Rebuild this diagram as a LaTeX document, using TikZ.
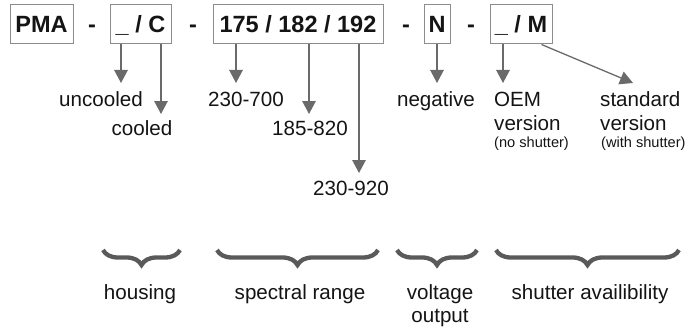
\documentclass[tikz,border=0pt]{standalone}
\usepackage{fontspec}
\setmainfont{Liberation Sans}
\usetikzlibrary{arrows.meta,decorations.pathreplacing}
\definecolor{boxgray}{HTML}{8C8C8C}
\definecolor{arrowgray}{HTML}{6A6A6A}
\definecolor{bracegray}{HTML}{5A5A5A}
\definecolor{ink}{HTML}{141414}
\tikzset{
  codebox/.style={draw=boxgray,line width=1pt,inner sep=0pt,minimum height=39pt,
    text height=16pt,text depth=0pt,text=ink,font=\fontsize{23.5}{27}\selectfont\bfseries},
  dashsep/.style={anchor=base,inner sep=0pt,text=ink,font=\fontsize{23.5}{27}\selectfont\bfseries},
  pick/.style={draw=arrowgray,line width=1.3pt,-{Triangle[width=13.5pt,length=13pt]}},
  lab/.style={anchor=base,inner sep=0pt,text=ink,font=\fontsize{20.6}{23}\selectfont},
  note/.style={anchor=base west,inner sep=0pt,text=ink,font=\fontsize{14.6}{16}\selectfont},
  curly/.style={decorate,decoration={brace,mirror,amplitude=15pt},draw=bracegray,line width=4.3pt}
}
\begin{document}
\begin{tikzpicture}[x=1pt,y=-1pt]
  \useasboundingbox (0,0) rectangle (693,329);
  % code fields
  \node[codebox,minimum width=63pt] (pma) at (41.5,24.5) {PMA};
  \node[dashsep] (d1) at (92,33) {-};
  \node[codebox,minimum width=61pt] (cool) at (140.5,24.5) {\_ / C};
  \node[dashsep] (d2) at (193,33) {-};
  \node[codebox,minimum width=170pt] (range) at (298,24.5) {175 / 182 / 192};
  \node[dashsep] (d3) at (406,33) {-};
  \node[codebox,minimum width=26pt] (volt) at (437,24.5) {N};
  \node[dashsep] (d4) at (471,33) {-};
  \node[codebox,minimum width=62pt] (shut) at (521,24.5) {\_ / M};
  % arrow tips
  \coordinate (tunc) at (121,83);
  \coordinate (tcld) at (161,114);
  \coordinate (tra) at (236,83);
  \coordinate (trb) at (309,114);
  \coordinate (trc) at (359,173);
  \coordinate (tneg) at (437,83);
  \coordinate (toem) at (503,83);
  \coordinate (tstd) at (633,83);
  \draw[pick] (tunc |- cool.south) -- (tunc);
  \draw[pick] (tcld |- cool.south) -- (tcld);
  \draw[pick] (tra |- range.south) -- (tra);
  \draw[pick] (trb |- range.south) -- (trb);
  \draw[pick] (trc |- range.south) -- (trc);
  \draw[pick] (volt.south) -- (tneg);
  \draw[pick] (toem |- shut.south) -- (toem);
  \draw[pick] ([xshift=-11pt]shut.south east) -- (tstd);
  % options
  \node[lab] (unc) at (101,106) {uncooled};
  \node[lab] (cld) at (142,135) {cooled};
  \node[lab] (ra) at (246,106) {230-700};
  \node[lab] (rb) at (310,135) {185-820};
  \node[lab] (rc) at (351,195) {230-920};
  \node[lab] (neg) at (436,106) {negative};
  \node[lab,anchor=base west] (oem) at (494,106) {OEM};
  \node[lab,anchor=base west] (oemv) at (494,130) {version};
  \node[note] (oemn) at (494,147) {(no shutter)};
  \node[lab,anchor=base west] (std) at (600,106) {standard};
  \node[lab,anchor=base west] (stdv) at (600,130) {version};
  \node[note] (stdn) at (601,147) {(with shutter)};
  % groups
  \coordinate (hl) at (103,250); \coordinate (hr) at (180,250);
  \coordinate (sl) at (217,250); \coordinate (sr) at (378,250);
  \coordinate (vl) at (397,250); \coordinate (vr) at (477,250);
  \coordinate (al) at (496,250); \coordinate (ar) at (679,250);
  \draw[curly] (hl) -- (hr);
  \draw[curly] (sl) -- (sr);
  \draw[curly] (vl) -- (vr);
  \draw[curly] (al) -- (ar);
  \node[lab] (hous) at (140,299) {housing};
  \node[lab] (spec) at (300,299) {spectral range};
  \node[lab] (vout) at (440,299) {voltage};
  \node[lab] (vout2) at (440,322) {output};
  \node[lab] (avail) at (590,299) {shutter availibility};
\end{tikzpicture}
\end{document}
